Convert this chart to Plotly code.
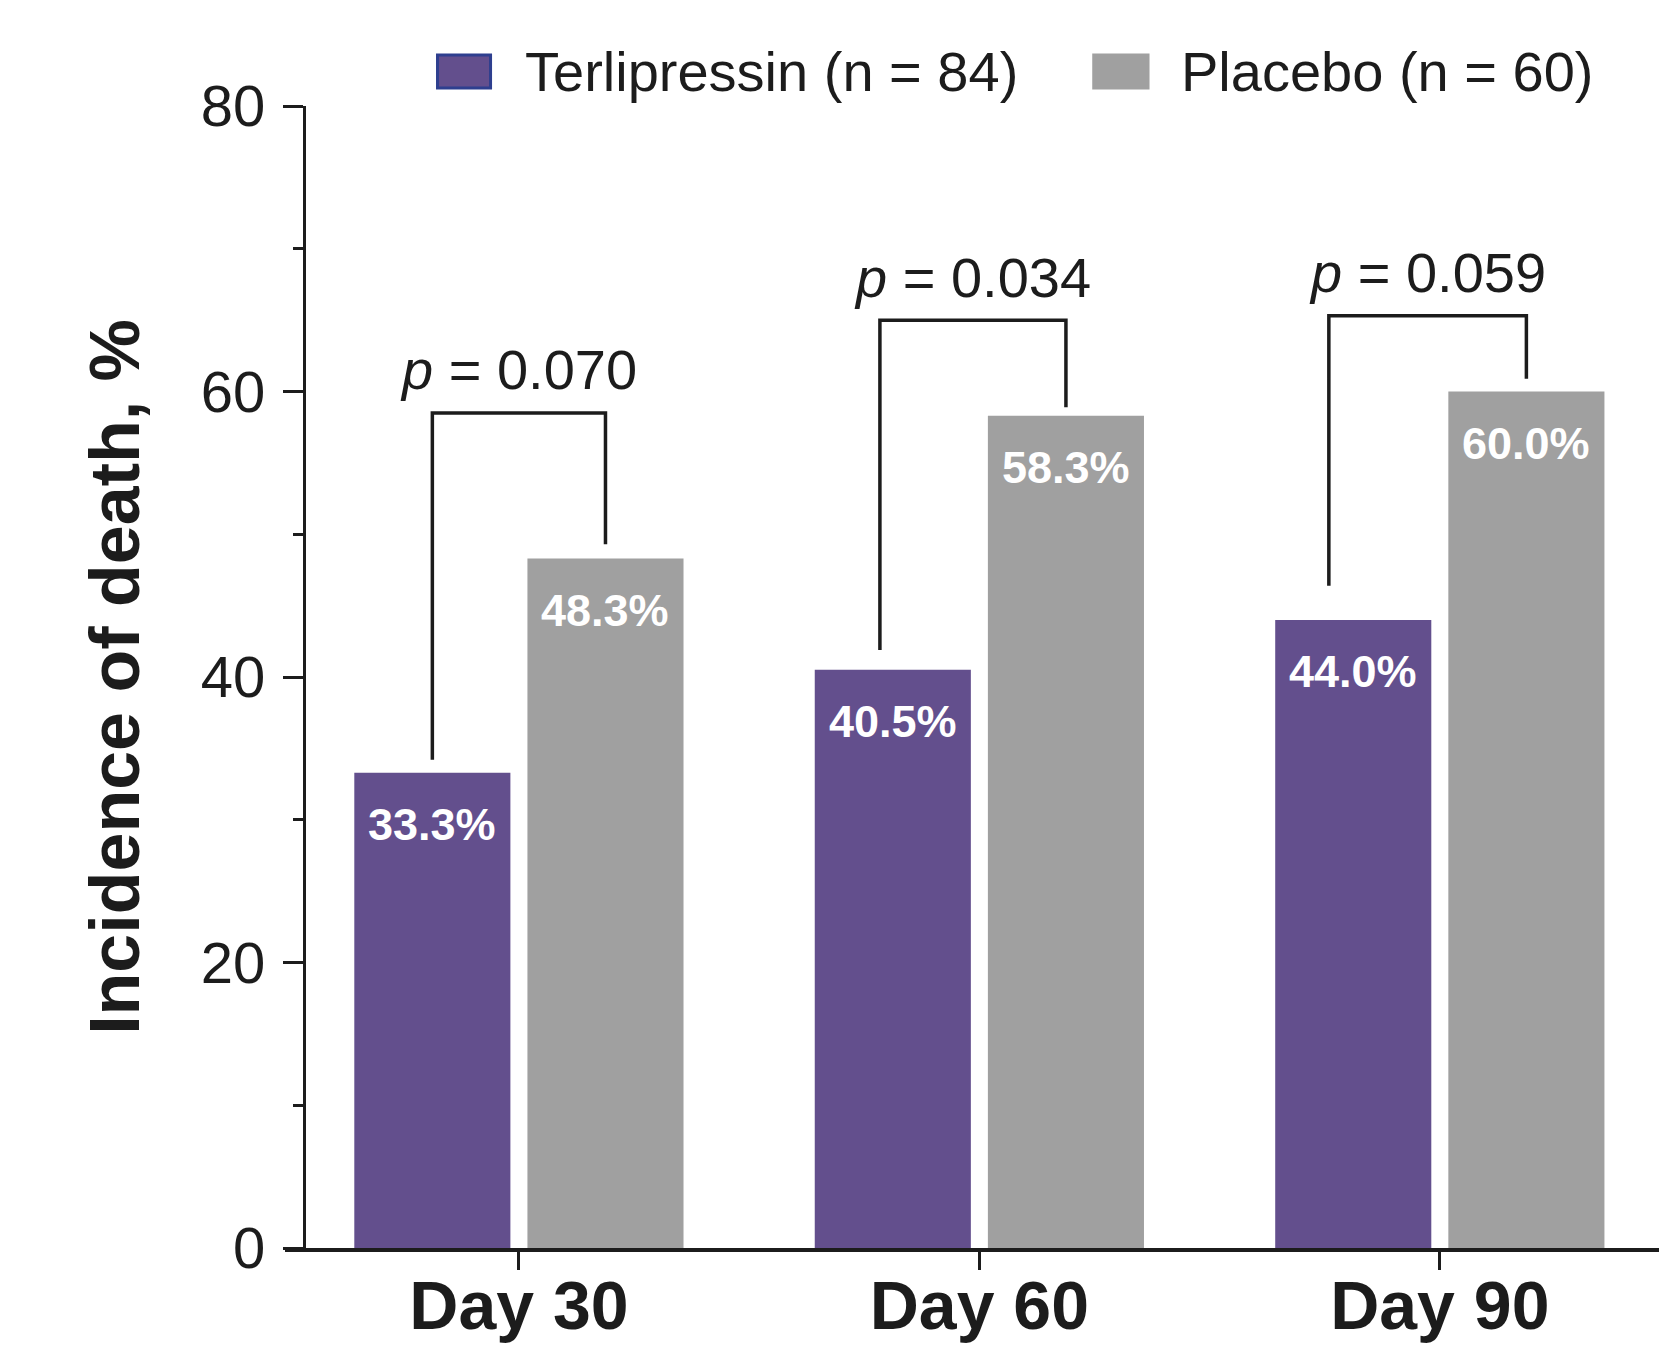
import plotly.graph_objects as go

# ---- data ----
days = ["Day 30", "Day 60", "Day 90"]
terlipressin = [33.3, 40.5, 44.0]
placebo = [48.3, 58.3, 60.0]
p_values = ["0.070", "0.034", "0.059"]
# bracket geometry (value units)
bracket_top = [58.5, 65.0, 65.3]
bracket_left_bottom = [34.2, 41.9, 46.4]
bracket_right_bottom = [49.3, 58.9, 60.9]
bracket_left_shift = [0.0, -0.028, -0.053]   # left leg offset from bar centre (category units)
y_ticks = [0, 20, 40, 60, 80]

TERL_COLOR = "#634F8D"
PLAC_COLOR = "#A0A0A0"
INK = "#1C1C1C"
FONT = "Liberation Sans, Arial, Helvetica, sans-serif"

BAR_W = 0.339
OFF = 0.188
idx = list(range(len(days)))
x_terl = [i - OFF for i in idx]
x_plac = [i + OFF for i in idx]

fig = go.Figure()
fig.add_trace(go.Bar(x=x_terl, y=terlipressin, width=BAR_W, name="Terlipressin (n = 84)",
                     marker=dict(color=TERL_COLOR, line=dict(width=0)), showlegend=False,
                     hoverinfo="y"))
fig.add_trace(go.Bar(x=x_plac, y=placebo, width=BAR_W, name="Placebo (n = 60)",
                     marker=dict(color=PLAC_COLOR, line=dict(width=0)), showlegend=False,
                     hoverinfo="y"))

# significance brackets
bx, by = [], []
for i in idx:
    lx = x_terl[i] + bracket_left_shift[i]
    rx = x_plac[i]
    bx += [lx, lx, rx, rx, None]
    by += [bracket_left_bottom[i], bracket_top[i], bracket_top[i], bracket_right_bottom[i], None]
fig.add_trace(go.Scatter(x=bx, y=by, mode="lines", line=dict(color=INK, width=3.5),
                         showlegend=False, hoverinfo="skip"))

annotations = []
for i in idx:
    for xv, v in ((x_terl[i], terlipressin[i]), (x_plac[i], placebo[i])):
        annotations.append(dict(x=xv, y=v, xref="x", yref="y", text=f"<b>{v:.1f}%</b>",
                                showarrow=False, yanchor="middle", yshift=-52,
                                font=dict(family=FONT, size=45, color="white")))
    lx = x_terl[i] + bracket_left_shift[i]
    annotations.append(dict(x=(lx + x_plac[i]) / 2, y=bracket_top[i], xref="x", yref="y",
                            text=f"<i>p</i> = {p_values[i]}", showarrow=False,
                            yanchor="middle", yshift=43,
                            font=dict(family=FONT, size=56, color=INK)))

# custom legend (large swatches)
legend_items = [("Terlipressin (n = 84)", TERL_COLOR, "#2E3F8F", 0.111, 0.1496, 0.1729),
                ("Placebo (n = 60)", PLAC_COLOR, PLAC_COLOR, 0.5886, 0.6281, 0.6504)]
shapes = []
for label, fc, lc, x0, x1, xt in legend_items:
    shapes.append(dict(type="rect", xref="paper", yref="paper", x0=x0, x1=x1,
                       y0=1.0158, y1=1.0447, fillcolor=fc, line=dict(color=lc, width=3)))
    annotations.append(dict(x=xt, y=1.0306, xref="paper", yref="paper", text=label,
                            showarrow=False, xanchor="left", yanchor="middle",
                            font=dict(family=FONT, size=56, color=INK)))

fig.update_layout(
    width=1665, height=1348,
    margin=dict(l=285, r=6, t=106, b=100, pad=0),
    paper_bgcolor="white", plot_bgcolor="white",
    font=dict(family=FONT, color=INK),
    barmode="overlay",
    showlegend=False,
    annotations=annotations,
    shapes=shapes,
    xaxis=dict(range=[-0.508, 2.476], tickmode="array", tickvals=idx,
               ticktext=[f"<b>{d}</b>" for d in days],
               tickfont=dict(family=FONT, size=68, color=INK),
               ticklabelstandoff=-22,
               showline=True, linecolor=INK, linewidth=3.5,
               ticks="outside", ticklen=18, tickwidth=3, tickcolor=INK,
               showgrid=False, zeroline=False, fixedrange=True, automargin=False),
    yaxis=dict(range=[0, 80], tickmode="array", tickvals=y_ticks,
               tickfont=dict(family=FONT, size=58, color=INK),
               anchor="free", position=0.0138, ticklabelstandoff=6,
               showline=True, linecolor=INK, linewidth=3,
               ticks="outside", ticklen=20, tickwidth=3, tickcolor=INK,
               minor=dict(dtick=10, tick0=0, ticks="outside", ticklen=10, tickwidth=3,
                          tickcolor=INK, showgrid=False),
               showgrid=False, zeroline=False, fixedrange=True, automargin=False,
               title=dict(text="<b>Incidence of death, %</b>", standoff=37,
                          font=dict(family=FONT, size=70, color=INK))),
)

fig.write_html("out.html")
